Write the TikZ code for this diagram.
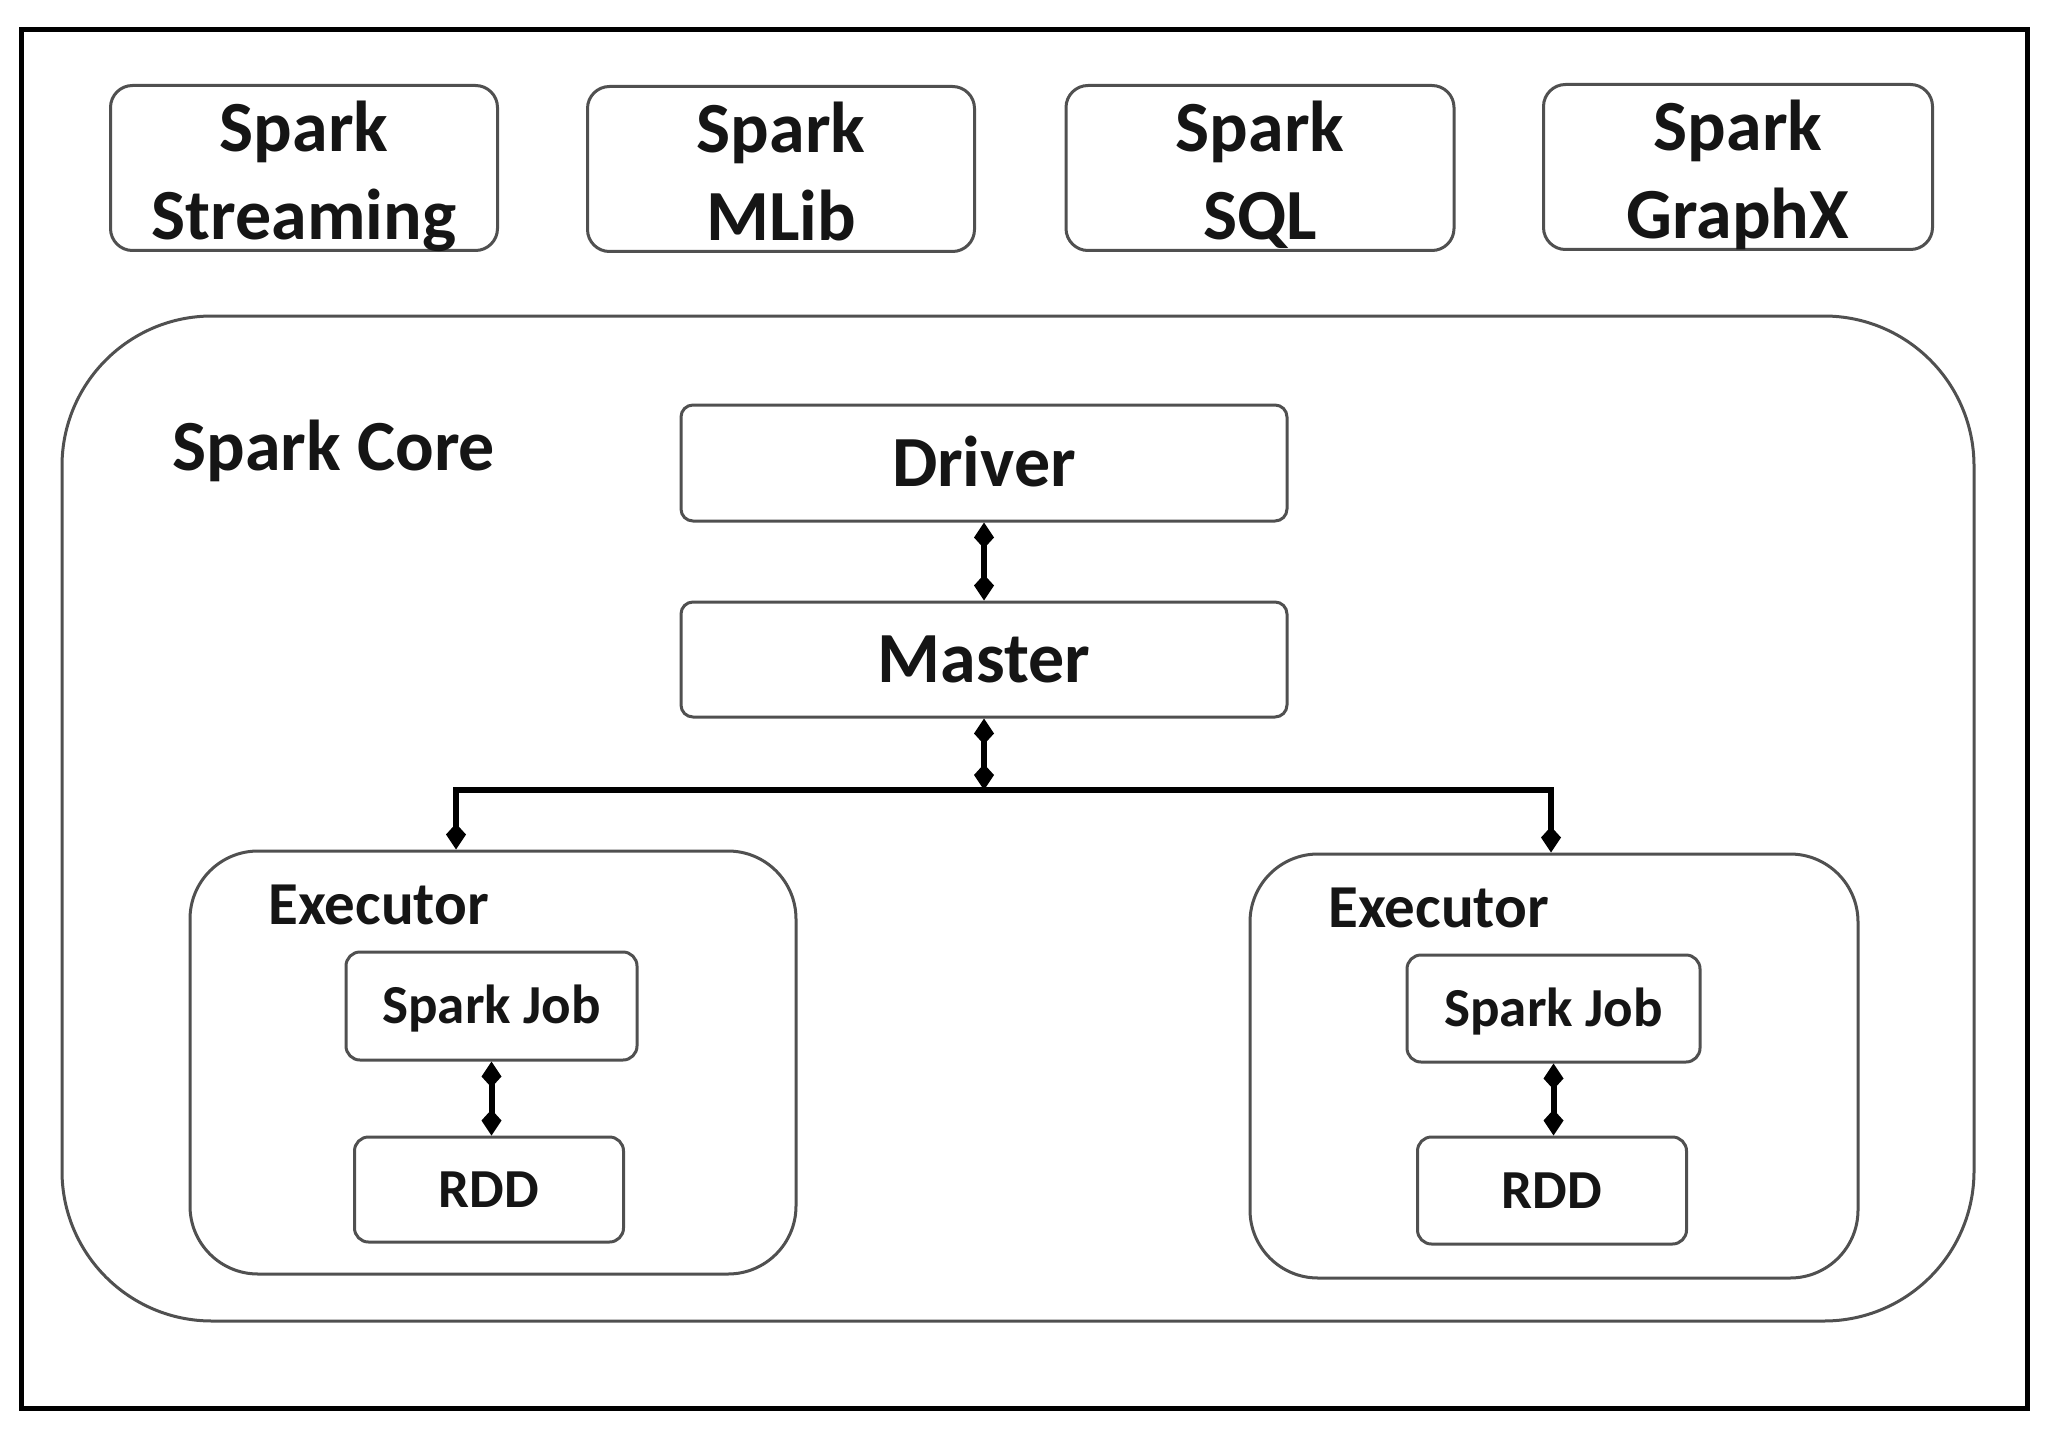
\documentclass[tikz,border=0pt]{standalone}
\usepackage{fontspec}
\setmainfont{Carlito}
\usetikzlibrary{arrows.meta}
\definecolor{boxgray}{HTML}{505050}
\definecolor{ink}{HTML}{151515}
\begin{document}
\begin{tikzpicture}[x=1pt,y=-1pt,
  box/.style={draw=boxgray, line width=3pt, rounded corners=#1, inner sep=0pt, fill=white},
  box/.default=16pt,
  toptxt/.style={align=center, text=ink, font=\bfseries\fontsize{72}{88}\selectfont},
  midtxt/.style={text=ink, font=\bfseries\fontsize{72}{80}\selectfont, text height=46pt, text depth=0pt},
  smltxt/.style={text=ink, font=\bfseries\fontsize{55}{64}\selectfont, text height=35pt, text depth=0pt},
  tip/.tip={Kite[length=26pt,width=20pt,inset=11pt]},
  conn/.style={draw=black, line width=6pt},
  dbl/.style={conn, tip-tip}
]
\useasboundingbox (0,0) rectangle (2050,1431);
\fill[white] (0,0) rectangle (2050,1431);
% outer frame
\draw[line width=5pt, black] (21,30) rectangle (2027,1408);

% top modules
\node[box=22pt, minimum width=387pt, minimum height=165pt] (b1) at (304,168) {};
\node[box=22pt, minimum width=387pt, minimum height=165pt] (b2) at (781,169) {};
\node[box=22pt, minimum width=388pt, minimum height=165pt] (b3) at (1260,168) {};
\node[box=22pt, minimum width=389pt, minimum height=165pt] (b4) at (1738,167) {};
\node[toptxt, yshift=-8pt] (t1) at (b1.center) {Spark\\Streaming\vphantom{g}};
\node[toptxt, yshift=-8pt] (t2) at (b2.center) {Spark\\MLib\vphantom{g}};
\node[toptxt, yshift=-8pt] (t3) at (b3.center) {Spark\\SQL\vphantom{g}};
\node[toptxt, yshift=-8pt] (t4) at (b4.center) {Spark\\GraphX\vphantom{g}};

% spark core
\node[box=150pt, minimum width=1912pt, minimum height=1005pt] (core) at (1018,818.5) {};
\node[anchor=base west, text=ink, font=\bfseries\fontsize{72}{88}\selectfont] (coretxt) at (169,470) {Spark Core};

% driver / master
\node[box=12pt, minimum width=606pt, minimum height=116pt, midtxt] (driver) at (984,463) {Driver};
\node[box=12pt, minimum width=606pt, minimum height=115pt, midtxt] (master) at (984,659.5) {Master};

% executors
\node[box=68pt, minimum width=606pt, minimum height=423pt] (exL) at (493,1062.5) {};
\node[box=68pt, minimum width=608pt, minimum height=424pt] (exR) at (1554,1066) {};
\node[anchor=base west, text=ink, font=\bfseries\fontsize{61}{70}\selectfont] (exLt) at (265,924) {Executor};
\node[anchor=base west, text=ink, font=\bfseries\fontsize{61}{70}\selectfont] (exRt) at (1325,927) {Executor};

\node[box=14pt, minimum width=291pt, minimum height=108pt, smltxt] (jobL) at (491.5,1006) {Spark Job};
\node[box=14pt, minimum width=293pt, minimum height=107pt, smltxt] (jobR) at (1553.5,1008.5) {Spark Job};
\node[box=14pt, minimum width=269pt, minimum height=105pt, smltxt] (rddL) at (489,1189.5) {RDD};
\node[box=14pt, minimum width=269pt, minimum height=107pt, smltxt] (rddR) at (1552,1190.5) {RDD};

% connectors
\coordinate (hub) at (984,790);
\coordinate (hl) at (456,790);
\coordinate (hr) at (1551,790);
\draw[dbl] (driver.south) -- (master.north);
\draw[dbl] (master.south) -- (hub);
\draw[dbl] (hl |- exL.north) -- (hl) -- (hr) -- (hr |- exR.north);
\draw[dbl] (jobL.south) -- (jobL.south |- rddL.north);
\draw[dbl] (jobR.south) -- (jobR.south |- rddR.north);
\end{tikzpicture}
\end{document}
